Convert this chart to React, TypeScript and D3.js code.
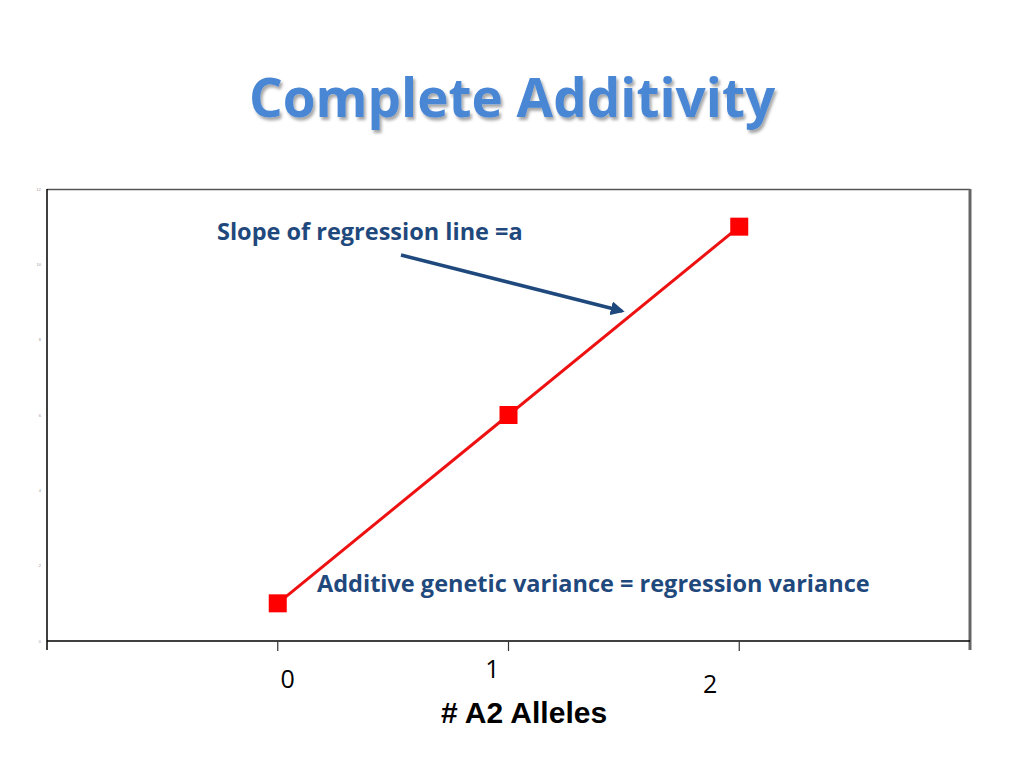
import * as d3 from 'd3';

// chart values
const alleleCounts = [0, 1, 2];
const genotypicValues = [1, 6, 11];
const yTicks = [0, 2, 4, 6, 8, 10, 12];
const xTicks = [-1, 0, 1, 2, 3];
const xTickLabels = ['0', '1', '2'];

const W = 1024;
const H = 768;

export default function App() {
  const x = d3.scaleLinear().domain([-1, 3]).range([47, 970]);
  const y = d3.scaleLinear().domain([0, 12]).range([641, 189]);

  const line = d3
    .line<number>()
    .x((_, i) => x(alleleCounts[i]))
    .y((d) => y(d));

  // labels on the slide sit a little off their ticks
  const labelOffsets = [
    { dx: 10, dy: 47 },
    { dx: -16, dy: 37 },
    { dx: -29, dy: 52 },
  ];

  return (
    <svg width={W} height={H} style={{ position: 'absolute', left: 0, top: 0, background: '#fff' }}>
      <defs>
        <filter id="shadow" x="-5%" y="-20%" width="110%" height="150%">
          <feDropShadow dx="2" dy="3" stdDeviation="1.5" floodColor="#000" floodOpacity="0.35" />
        </filter>
        <marker id="arrow" viewBox="0 0 10 10" refX="8" refY="5" markerWidth="4" markerHeight="4" orient="auto">
          <path d="M0,0 L10,5 L0,10 z" fill="#1f497d" />
        </marker>
      </defs>

      <text
        x={512}
        y={117}
        textAnchor="middle"
        fontFamily="'Open Sans', sans-serif"
        fontWeight="bold"
        fontSize={53}
        fill="#4a86d4"
        filter="url(#shadow)"
      >
        Complete Additivity
      </text>

      {/* plot frame */}
      <line x1={47} x2={970} y1={189.5} y2={189.5} stroke="#555" strokeWidth={1.5} />
      <line x1={970} x2={970} y1={189} y2={650} stroke="#666" strokeWidth={3} />
      <line x1={47} x2={47} y1={189} y2={650} stroke="#000" strokeWidth={1.5} />
      <line x1={47} x2={970} y1={641} y2={641} stroke="#000" strokeWidth={1.5} />

      {yTicks.map((t) => (
        <text
          key={t}
          x={41}
          y={y(t) + 1.5}
          textAnchor="end"
          fontFamily="'Liberation Sans', sans-serif"
          fontSize={4}
          fill="#999"
        >
          {t}
        </text>
      ))}

      {xTicks.slice(1, 4).map((t) => (
        <line key={t} x1={x(t)} x2={x(t)} y1={641} y2={651} stroke="#333" strokeWidth={1.2} />
      ))}

      {xTickLabels.map((lab, i) => (
        <text
          key={lab}
          x={x(alleleCounts[i]) + labelOffsets[i].dx}
          y={641 + labelOffsets[i].dy}
          textAnchor="middle"
          fontFamily="'Open Sans', sans-serif"
          fontSize={25}
          fill="#000"
        >
          {lab}
        </text>
      ))}

      <text
        x={524}
        y={723}
        textAnchor="middle"
        fontFamily="'Liberation Sans', Arial, sans-serif"
        fontWeight="bold"
        fontSize={30}
        fill="#000"
      >
        # A2 Alleles
      </text>

      <path d={line(genotypicValues) ?? ''} fill="none" stroke="#ee1111" strokeWidth={3} />
      {genotypicValues.map((v, i) => (
        <rect key={i} x={x(alleleCounts[i]) - 9} y={y(v) - 9} width={18} height={18} fill="#ff0000" />
      ))}

      <text
        x={217}
        y={240}
        fontFamily="'Open Sans', sans-serif"
        fontWeight="bold"
        fontSize={23.5}
        fill="#1f497d"
      >
        Slope of regression line =a
      </text>
      <line
        x1={401}
        y1={255}
        x2={622}
        y2={311}
        stroke="#1f497d"
        strokeWidth={3.5}
        markerEnd="url(#arrow)"
      />

      <text
        x={317}
        y={592}
        fontFamily="'Open Sans', sans-serif"
        fontWeight="bold"
        fontSize={23.5}
        fill="#1f497d"
      >
        Additive genetic variance = regression variance
      </text>
    </svg>
  );
}
